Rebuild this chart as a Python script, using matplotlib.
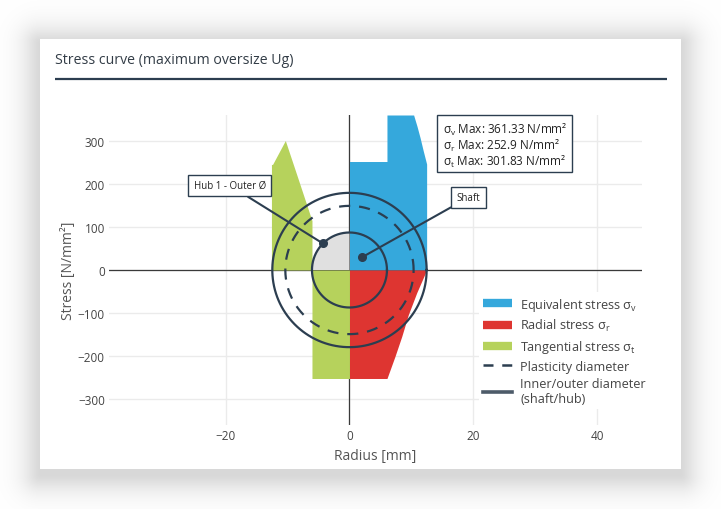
import numpy as np
import matplotlib
matplotlib.use("Agg")
import matplotlib.pyplot as plt
from matplotlib.lines import Line2D
from matplotlib.patches import Rectangle, Polygon

plt.rcParams['font.family'] = ['Open Sans', 'DejaVu Sans']
plt.rcParams['mathtext.fontset'] = 'custom'
plt.rcParams['mathtext.rm'] = 'Open Sans'
plt.rcParams['axes.unicode_minus'] = True

# ---------------- data ----------------
r_shaft = [0.0, 6.05]                 # shaft radius range [mm]
r_plastic = 10.35                      # plasticity radius [mm]
r_outer = 12.45                        # hub outer radius [mm]

sv_shaft = [252.9, 252.9]              # equivalent stress in shaft
sr_shaft = [-252.9, -252.9]            # radial stress in shaft
st_shaft = [-252.9, -252.9]            # tangential stress in shaft

r_hub_v = [6.05, 10.35, 10.9, 11.4, 11.9, 12.45]
sv_hub = [361.33, 361.33, 335, 308, 278, 247]

r_hub_r = [6.05, 7.35, 8.43, 9.5, 10.85, 12.45]
sr_hub = [-252.9, -201, -155, -104, -53, 0]

r_hub_t = [6.05, 8.53, 10.35, 12.45]
st_hub = [115, 223, 301.83, 245]

stats_labels = ["v", "r", "t"]
stats_values = [361.33, 252.9, 301.83]

x_ticks = [-20, 0, 20, 40]
y_ticks = [-300, -200, -100, 0, 100, 200, 300]
x_range = [-38.8, 47.2]
y_range = [-361.33, 361.33]

C_BLUE = '#35a8dc'
C_RED = '#de3531'
C_GREEN = '#b6d25c'
C_GREY = '#e0e0e0'
C_DARK = '#2c3e50'
C_TEXT = '#444444'

W, H = 721, 510
fig = plt.figure(figsize=(W / 100, H / 100), dpi=100)
fig.patch.set_facecolor('white')

# ---------------- background card with shadow ----------------
bg = fig.add_axes([0, 0, 1, 1], zorder=-10)
bg.set_xlim(0, W)
bg.set_ylim(H, 0)
bg.axis('off')
yy, xx = np.mgrid[0:H, 0:W] + 0.5
cx0, cx1, cy0, cy1 = 40, 681, 44, 476
dx = np.maximum(np.maximum(cx0 - xx, xx - cx1), 0)
dy = np.maximum(np.maximum(cy0 - yy, yy - cy1), 0)
d = np.hypot(dx, dy)
alpha = 0.15 * np.exp(-(d / 18.0) ** 1.5)
img = np.ones((H, W, 3)) * (1 - alpha[..., None])
bg.imshow(img, extent=[0, W, H, 0], aspect='auto', interpolation='bilinear')
bg.add_patch(Rectangle((40, 40), 641, 430, facecolor='white', edgecolor='none'))
bg.text(55, 60, "Stress curve (maximum oversize Ug)", fontsize=10.2,
        color='#333d47', va='center', ha='left')
bg.plot([55, 667], [80, 80], color=C_DARK, lw=1.6, solid_capstyle='butt')

# ---------------- main axes ----------------
ax_l, ax_r, ax_t, ax_b = 109, 642, 116, 426
ax = fig.add_axes([ax_l / W, 1 - ax_b / H, (ax_r - ax_l) / W, (ax_b - ax_t) / H])
ax.set_facecolor('none')
ax.set_xlim(*x_range)
ax.set_ylim(*y_range)
for s in ax.spines.values():
    s.set_visible(False)
ax.set_xticks(x_ticks)
ax.set_yticks(y_ticks)
ax.tick_params(length=0, labelsize=8.5, labelcolor=C_TEXT, pad=3)
ax.grid(True, color='#ebebeb', lw=1, zorder=0.2)
ax.set_axisbelow(True)
for gl in ax.get_xgridlines() + ax.get_ygridlines():
    gl.set_zorder(0.2)
ax.axhline(0, color='#3a3a3a', lw=0.9, zorder=0.8)
ax.axvline(0, color='#3a3a3a', lw=0.9, zorder=0.8)
ax.set_xlabel("Radius [mm]", fontsize=10, color='#555555', labelpad=4)
ax.set_ylabel("Stress [N/mm²]", fontsize=10, color='#555555', labelpad=1)

# stress fills
rv = np.concatenate([r_shaft, r_hub_v])
sv = np.concatenate([sv_shaft, sv_hub])
ax.fill_between(rv, 0, sv, color=C_BLUE, lw=0, zorder=1)
rr = np.concatenate([r_shaft, r_hub_r])
sr = np.concatenate([sr_shaft, sr_hub])
ax.fill_between(rr, 0, sr, color=C_RED, lw=0, zorder=1)
rt = -np.concatenate([r_shaft, r_hub_t])
st = np.concatenate([st_shaft, st_hub])
ax.fill_between(rt, 0, st, color=C_GREEN, lw=0, zorder=1)
ax.plot([rt[-1], rt[-1]], [0, st[-1]], color=C_GREEN, lw=0.8, zorder=1)

# circle scaling: draw true circles in pixel space
pos = ax.get_position()
px_per_x = pos.width * W / (x_range[1] - x_range[0])
px_per_y = pos.height * H / (y_range[1] - y_range[0])
k = px_per_x / px_per_y

t = np.linspace(0, 2 * np.pi, 400)
r_in = r_shaft[1]
# grey quadrant (shaft, upper left)
tq = np.linspace(np.pi / 2, np.pi, 100)
quad = np.column_stack([np.r_[0, r_in * np.cos(tq)], np.r_[0, r_in * k * np.sin(tq)]])
ax.add_patch(Polygon(quad, closed=True, facecolor=C_GREY, edgecolor='none', zorder=1.5))

ax.plot(r_in * np.cos(t), r_in * k * np.sin(t), color=C_DARK, lw=1.6, zorder=3)
ax.plot(r_outer * np.cos(t), r_outer * k * np.sin(t), color=C_DARK, lw=1.6, zorder=3)
ax.plot(r_plastic * np.cos(t), r_plastic * k * np.sin(t), color=C_DARK, lw=1.6,
        dashes=(5, 4), zorder=3)

# annotations
ang = 3 * np.pi / 4
hub_pt = (r_in * np.cos(ang), r_in * k * np.sin(ang))
shaft_pt = (0.5 * r_in * np.cos(np.pi / 4) * 0.98, 0.5 * r_in * k * np.sin(np.pi / 4) * 0.98)
for txt, pt, tpos in [("Hub 1 - Outer Ø", hub_pt, (-19.3, 197)),
                      ("Shaft", shaft_pt, (19.2, 169))]:
    ax.annotate(txt, xy=pt, xytext=tpos, textcoords='data', fontsize=7,
                color='#222222', ha='center', va='center', zorder=5,
                bbox=dict(boxstyle='square,pad=0.55', fc='white', ec=C_DARK, lw=1),
                arrowprops=dict(arrowstyle='-', color=C_DARK, lw=1.5,
                                shrinkA=0, shrinkB=0))
    ax.plot(*pt, 'o', color=C_DARK, ms=5.5, zorder=6)

# legend
handles = [Line2D([], [], color=C_BLUE, lw=6, solid_capstyle='butt'),
           Line2D([], [], color=C_RED, lw=6, solid_capstyle='butt'),
           Line2D([], [], color=C_GREEN, lw=6, solid_capstyle='butt'),
           Line2D([], [], color=C_DARK, lw=1.8, dashes=(4, 3.5)),
           Line2D([], [], color='#4d5b69', lw=2.6)]
labels = ["Equivalent stress σ$_\\mathregular{v}$",
          "Radial stress σ$_\\mathregular{r}$",
          "Tangential stress σ$_\\mathregular{t}$",
          "Plasticity diameter",
          "Inner/outer diameter\n(shaft/hub)"]
leg = ax.legend(handles, labels, loc='upper left',
                bbox_to_anchor=(479 / W, 1 - 293 / H), bbox_transform=fig.transFigure,
                fontsize=9.1, frameon=True, facecolor='white', edgecolor='none',
                fancybox=False, framealpha=1, borderpad=0.3, labelspacing=0.36,
                handlelength=2.35, handletextpad=0.6, borderaxespad=0)
for tx in leg.get_texts():
    tx.set_color(C_TEXT)
leg.set_zorder(7)

# ---------------- overlay: stats box ----------------
ov = fig.add_axes([0, 0, 1, 1], zorder=20)
ov.set_xlim(0, W)
ov.set_ylim(H, 0)
ov.axis('off')
ov.patch.set_alpha(0)
ov.add_patch(Rectangle((437, 116), 135, 57, facecolor='white', edgecolor=C_DARK, lw=1))
for i, (lab, val) in enumerate(zip(stats_labels, stats_values)):
    ov.text(443, 130 + i * 16, f"σ$_\\mathregular{{{lab}}}$ Max: {val:g} N/mm²",
            fontsize=8.5, color='#222222', va='center', ha='left')

fig.savefig("out.png", dpi=100)
